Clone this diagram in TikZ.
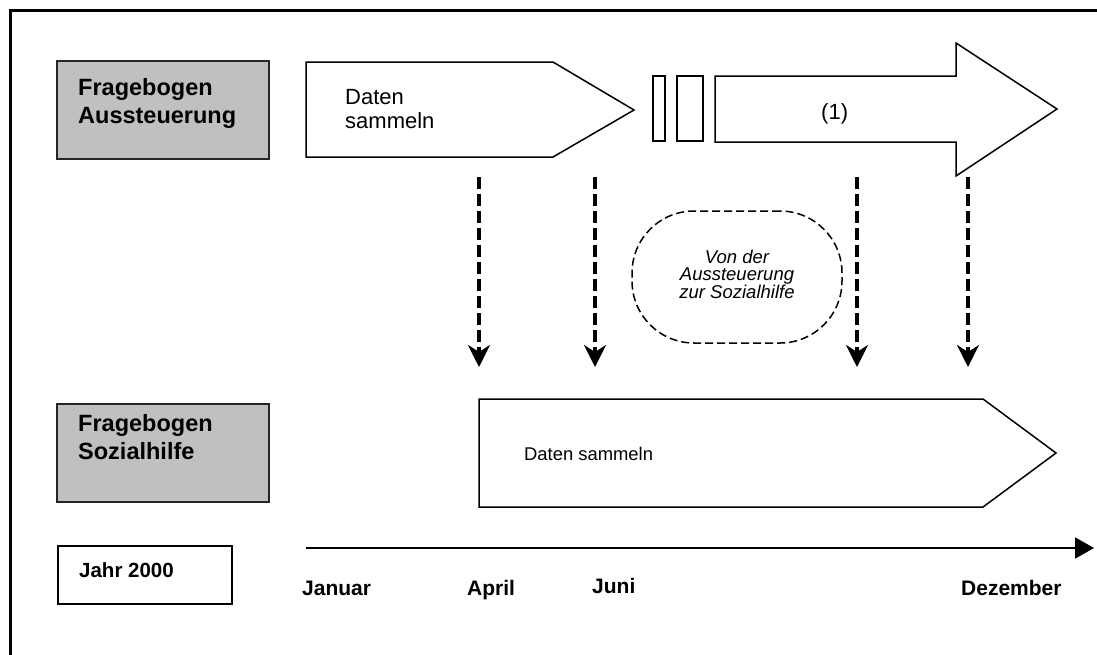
\documentclass[tikz,border=0pt]{standalone}
\usepackage{fontspec}
\setmainfont{Liberation Sans}
\usetikzlibrary{arrows.meta}
\definecolor{boxgray}{RGB}{192,192,192}
\tikzset{
  frame/.style={line width=3pt},
  graybox/.style={draw=black!85, fill=boxgray, line width=1.8pt, minimum width=212pt, minimum height=98pt, inner sep=0pt},
  whitebox/.style={draw=black, fill=white, line width=1.5pt, inner sep=0pt},
  shapeline/.style={draw=black, line width=1.5pt, line join=miter},
  labelbold/.style={font=\fontsize{23.5}{28}\selectfont\bfseries, anchor=base west, align=left, inner sep=0pt},
  monthlabel/.style={font=\fontsize{21}{24}\selectfont\bfseries, anchor=base west, inner sep=0pt},
  plaintext/.style={font=\fontsize{22}{24}\selectfont, anchor=base west, align=left, inner sep=0pt},
  dasharrow/.style={line width=3.5pt, dash pattern=on 12pt off 5pt, -{Stealth[length=22pt,width=22pt,inset=7pt]}},
  dashcloud/.style={draw=black, line width=1.5pt, dash pattern=on 8pt off 4pt, rounded corners=62pt, minimum width=210pt, minimum height=132pt, inner sep=0pt},
}
\begin{document}
\begin{tikzpicture}[x=1pt,y=-1pt]
\useasboundingbox (0,0) rectangle (1097,654);
\clip (0,0) rectangle (1097,654);
\fill[white] (0,0) rectangle (1097,654);
% outer frame
\draw[frame] (10.8,1200) -- (10.8,10.8) -- (1200,10.8);

% gray label boxes
\node[graybox] (fa) at (163,110) {};
\node[labelbold] (fatext) at (78,123) {Fragebogen\\Aussteuerung};
\node[graybox] (fs) at (163,453) {};
\node[labelbold] (fstext) at (78,459) {Fragebogen\\Sozialhilfe};

% Jahr 2000 box
\node[whitebox, minimum width=174pt, minimum height=58pt] (jahr) at (145,575) {};
\node[font=\fontsize{20.5}{24}\selectfont\bfseries, anchor=base west, inner sep=0pt] (jahrtext) at (79,577) {Jahr 2000};

% top pentagon
\draw[shapeline] (306,62) -- (553,62) -- (634,110) -- (553,157) -- (306,157) -- cycle;
\node[plaintext] (datentop) at (345,128) {Daten\\sammeln};

% small rectangles
\draw[shapeline] (653,76) rectangle (665,141);
\draw[shapeline] (677,76) rectangle (703,141);

% big arrow
\draw[shapeline] (715,76) -- (956,76) -- (956,43) -- (1057,109) -- (956,176) -- (956,142) -- (715,142) -- cycle;
\node[plaintext] (one) at (821,119) {(1)};

% bottom pentagon
\draw[shapeline] (479,399) -- (983,399) -- (1056,453) -- (983,507) -- (479,507) -- cycle;
\node[font=\fontsize{18.4}{22}\selectfont, anchor=base west, inner sep=0pt] (datenbot) at (524,460) {Daten sammeln};

% dashed cloud
\node[dashcloud] (von) at (737,277) {};
\node[font=\fontsize{18.5}{17.5}\selectfont\itshape, align=center, inner sep=0pt, anchor=base] (vontext) at (737,298) {Von der\\Aussteuerung\\zur Sozialhilfe};

% dashed arrows
\coordinate (a1s) at (479,177); \coordinate (a1e) at (479,367);
\coordinate (a2s) at (595,177); \coordinate (a2e) at (595,367);
\coordinate (a3s) at (857,177); \coordinate (a3e) at (857,367);
\coordinate (a4s) at (968,177); \coordinate (a4e) at (968,367);
\draw[dasharrow] (a1s) -- (a1e);
\draw[dasharrow] (a2s) -- (a2e);
\draw[dasharrow] (a3s) -- (a3e);
\draw[dasharrow] (a4s) -- (a4e);

% timeline
\coordinate (ts) at (306,548); \coordinate (te) at (1094,548);
\draw[line width=2pt, -{Triangle[length=19pt,width=21pt]}] (ts) -- (te);
\node[monthlabel] (jan) at (302,595) {Januar};
\node[monthlabel] (apr) at (467,595) {April};
\node[monthlabel] (jun) at (592,593) {Juni};
\node[monthlabel] (dez) at (961,595) {Dezember};
\end{tikzpicture}
\end{document}
